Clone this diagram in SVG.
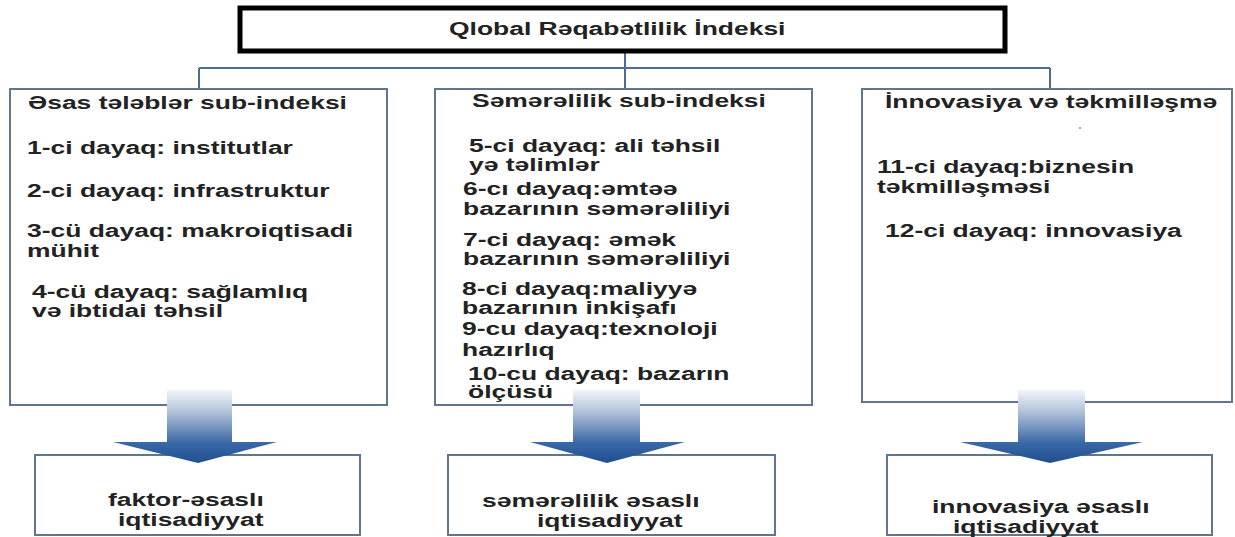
<svg xmlns="http://www.w3.org/2000/svg" width="1235" height="537" viewBox="0 0 1235 537">
<style>
.t{font-family:"Liberation Sans",Arial,sans-serif;font-size:18px;font-weight:bold;fill:#222}
.box{fill:#fff;stroke:#5f7590;stroke-width:2}
.conn{fill:none;stroke:#4a6e93;stroke-width:2}
.shaft{fill:url(#gs)}
.head{fill:url(#gh)}
</style>
<defs>
<linearGradient id="gs" x1="0" y1="0" x2="0" y2="1">
<stop offset="0" stop-color="#f2f5fa"/>
<stop offset="0.45" stop-color="#a9bcd6"/>
<stop offset="1" stop-color="#3a67a3"/>
</linearGradient>
<linearGradient id="gh" x1="0" y1="0" x2="0" y2="1">
<stop offset="0" stop-color="#3a6aa8"/>
<stop offset="1" stop-color="#1f4f8f"/>
</linearGradient>
</defs>
<rect width="1235" height="537" fill="#fff"/>

<g id="connectors">
<path class="conn" d="M625 53 V89 M199 68 H1050 M199 68 V89 M1050 68 V89"/>
</g>

<g id="top">
<rect x="240" y="8" width="765" height="43" fill="#fff" stroke="#000" stroke-width="5"/>
<text class="t" transform="translate(449,35) scale(1.47,1)">Qlobal Rəqabətlilik İndeksi</text>
</g>

<g id="sub1">
<rect class="box" x="10" y="89" width="377" height="316"/>
<text class="t" transform="translate(28,109) scale(1.47,1)">Əsas tələblər sub-indeksi</text>
<text class="t" transform="translate(27,154) scale(1.47,1)">1-ci dayaq: institutlar</text>
<text class="t" transform="translate(27,197) scale(1.47,1)">2-ci dayaq: infrastruktur</text>
<text class="t" transform="translate(27,237) scale(1.47,1)">3-cü dayaq: makroiqtisadi</text>
<text class="t" transform="translate(27,257) scale(1.47,1)">mühit</text>
<text class="t" transform="translate(32,298) scale(1.47,1)">4-cü dayaq: sağlamlıq</text>
<text class="t" transform="translate(32,317) scale(1.47,1)">və ibtidai təhsil</text>
</g>

<g id="sub2">
<rect class="box" x="435" y="89" width="377" height="316"/>
<text class="t" transform="translate(472,107) scale(1.47,1)">Səmərəlilik sub-indeksi</text>
<text class="t" transform="translate(469,152) scale(1.47,1)">5-ci dayaq: ali təhsil</text>
<text class="t" transform="translate(469,171) scale(1.47,1)">yə təlimlər</text>
<text class="t" transform="translate(463,195) scale(1.47,1)">6-cı dayaq:əmtəə</text>
<text class="t" transform="translate(463,215) scale(1.47,1)">bazarının səmərəliliyi</text>
<text class="t" transform="translate(463,246) scale(1.47,1)">7-ci dayaq: əmək</text>
<text class="t" transform="translate(463,265) scale(1.47,1)">bazarının səmərəliliyi</text>
<text class="t" transform="translate(462,295) scale(1.47,1)">8-ci dayaq:maliyyə</text>
<text class="t" transform="translate(462,314) scale(1.47,1)">bazarının inkişafı</text>
<text class="t" transform="translate(462,335) scale(1.47,1)">9-cu dayaq:texnoloji</text>
<text class="t" transform="translate(462,356) scale(1.47,1)">hazırlıq</text>
<text class="t" transform="translate(468,380) scale(1.47,1)">10-cu dayaq: bazarın</text>
<text class="t" transform="translate(468,398) scale(1.47,1)">ölçüsü</text>
</g>

<g id="sub3">
<rect class="box" x="862" y="89" width="370" height="313"/>
<text class="t" transform="translate(885,108) scale(1.47,1)">İnnovasiya və təkmilləşmə</text>
<circle cx="1080" cy="128" r="1" fill="#888"/>
<text class="t" transform="translate(877,173) scale(1.47,1)">11-ci dayaq:biznesin</text>
<text class="t" transform="translate(877,193) scale(1.47,1)">təkmilləşməsi</text>
<text class="t" transform="translate(885,237) scale(1.47,1)">12-ci dayaq: innovasiya</text>
</g>

<g id="res1">
<rect class="box" x="35" y="455" width="325" height="80"/>
<text class="t" transform="translate(108,506) scale(1.47,1)">faktor-əsaslı</text>
<text class="t" transform="translate(118,526) scale(1.47,1)">iqtisadiyyat</text>
</g>
<g id="res2">
<rect class="box" x="448" y="455" width="327" height="80"/>
<text class="t" transform="translate(482,507) scale(1.47,1)">səmərəlilik əsaslı</text>
<text class="t" transform="translate(537,527) scale(1.47,1)">iqtisadiyyat</text>
</g>
<g id="res3">
<rect class="box" x="887" y="455" width="325" height="80"/>
<text class="t" transform="translate(932,513) scale(1.47,1)">innovasiya əsaslı</text>
<text class="t" transform="translate(953,533) scale(1.47,1)">iqtisadiyyat</text>
</g>

<g id="arrows">
<rect class="shaft" x="167" y="390" width="65" height="53"/>
<polygon class="head" points="113,442 277,442 198,463"/>
<rect class="shaft" x="573" y="390" width="67" height="53"/>
<polygon class="head" points="530,442 685,442 607,463"/>
<rect class="shaft" x="1018" y="390" width="67" height="53"/>
<polygon class="head" points="960,442 1143,442 1050,463"/>
</g>
</svg>
